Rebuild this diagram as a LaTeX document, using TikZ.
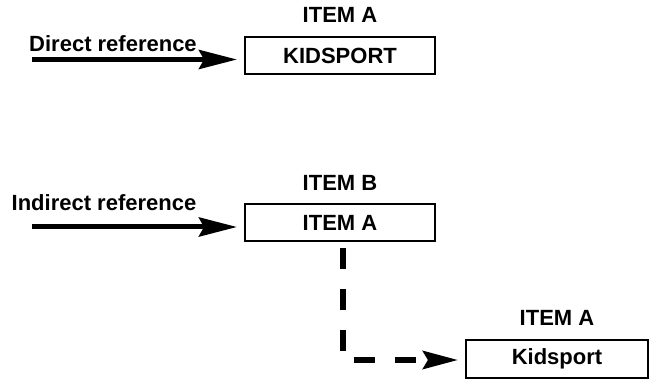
\documentclass[tikz,border=0pt]{standalone}
\usepackage{fontspec}
\setmainfont{Liberation Sans}
\usetikzlibrary{arrows.meta}
\begin{document}
\begin{tikzpicture}[x=1pt,y=-1pt,
  lbl/.style={font=\fontsize{22}{24}\selectfont\bfseries, inner sep=0pt},
  itembox/.style={draw, line width=1.2pt, minimum width=190pt, minimum height=37pt,
    inner sep=0pt, font=\fontsize{22}{24}\selectfont\bfseries},
  bigarrow/.style={line width=5pt, -{Stealth[length=38pt, width=19pt, inset=5pt]}},
  dasharrow/.style={line width=5.5pt, dash pattern=on 21pt off 20pt, dash phase=34pt,
    -{Stealth[length=35pt, width=18pt, inset=5pt]}}]
\useasboundingbox (0,0) rectangle (650,379);

% direct reference
\node[lbl] (t1) at (340,15) {ITEM A};
\node[itembox] (b1) at (340,55.5) {KIDSPORT};
\node[lbl] (d1) at (113,44) {Direct reference};
\coordinate (s1) at (32,59.5);
\coordinate (a1) at (237,59.5);
\draw[bigarrow] (s1) -- (a1);

% indirect reference
\node[lbl] (t2) at (340,183) {ITEM B};
\node[itembox] (b2) at (340,222.5) {ITEM A};
\node[lbl] (d2) at (104,203) {Indirect reference};
\coordinate (s2) at (32,227);
\coordinate (a2) at (237,227);
\draw[bigarrow] (s2) -- (a2);

% target of the indirect reference
\node[lbl] (t3) at (557,318) {ITEM A};
\node[itembox, minimum width=182pt, minimum height=38pt] (b3) at (557,359) {Kidsport};

% dashed link from ITEM B down to the target
\coordinate (c1) at (343,241);
\coordinate (c2) at (343,360);
\coordinate (a3) at (458,360);
\draw[dasharrow] (c1) -- (c2) -- (a3);
\end{tikzpicture}
\end{document}
